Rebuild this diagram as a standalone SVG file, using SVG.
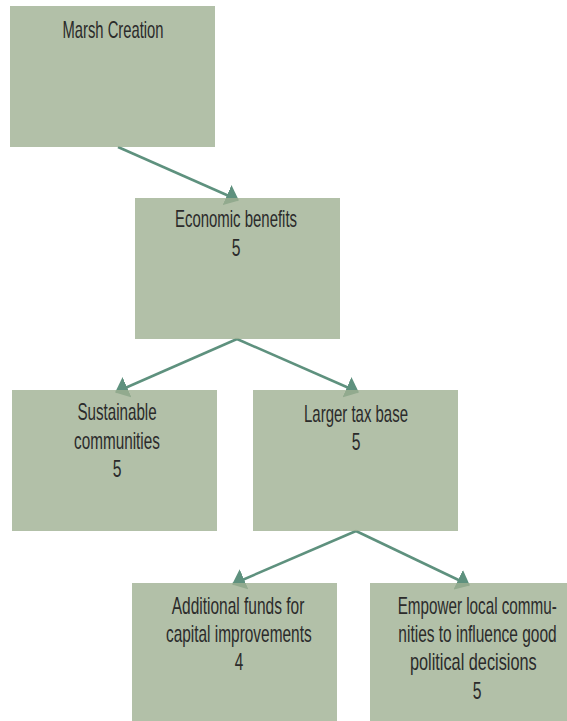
<svg xmlns="http://www.w3.org/2000/svg" width="567" height="721" viewBox="0 0 567 721">
  <style>
    .box { fill: #9fb092; fill-opacity: 0.8; }
    .lbl { font-family: "Liberation Sans", "DejaVu Sans", sans-serif; font-size: 23px; fill: #2b2b2b; text-anchor: middle; }
    .edge { stroke: #5e917e; stroke-width: 2.5; fill: none; marker-end: url(#arrow); }
  </style>
  <defs>
    <marker id="arrow" viewBox="0 0 13 22" refX="12" refY="11" markerWidth="13" markerHeight="22" markerUnits="userSpaceOnUse" orient="auto">
      <path d="M0,0 L13,11 L0,22 z" fill="#5e917e"/>
    </marker>
  </defs>
  <rect width="567" height="721" fill="#ffffff"/>

  <g id="connectors">
    <line class="edge" x1="118" y1="147" x2="238" y2="200"/>
    <line class="edge" x1="237" y1="339" x2="116" y2="392"/>
    <line class="edge" x1="237" y1="339" x2="358" y2="392"/>
    <line class="edge" x1="356" y1="531" x2="233" y2="584"/>
    <line class="edge" x1="356" y1="531" x2="469" y2="585"/>
  </g>

  <g id="marsh-creation">
    <rect class="box" x="10" y="6" width="205" height="141"/>
    <text class="lbl" transform="translate(113,38) scale(0.66,1)" x="0" y="0" textLength="153" lengthAdjust="spacingAndGlyphs">Marsh Creation</text>
  </g>

  <g id="economic-benefits">
    <rect class="box" x="135" y="198" width="205" height="141"/>
    <text class="lbl" transform="translate(236,227) scale(0.66,1)" x="0" y="0" textLength="185" lengthAdjust="spacingAndGlyphs">Economic benefits</text>
    <text class="lbl" transform="translate(236,256) scale(0.66,1)" x="0" y="0" textLength="13.2" lengthAdjust="spacingAndGlyphs">5</text>
  </g>

  <g id="sustainable-communities">
    <rect class="box" x="12" y="390" width="205" height="141"/>
    <text class="lbl" transform="translate(117,420) scale(0.66,1)" x="0" y="0" textLength="120" lengthAdjust="spacingAndGlyphs">Sustainable</text>
    <text class="lbl" transform="translate(117,448.5) scale(0.66,1)" x="0" y="0" textLength="130" lengthAdjust="spacingAndGlyphs">communities</text>
    <text class="lbl" transform="translate(117,477) scale(0.66,1)" x="0" y="0" textLength="13.2" lengthAdjust="spacingAndGlyphs">5</text>
  </g>

  <g id="larger-tax-base">
    <rect class="box" x="253" y="390" width="205" height="141"/>
    <text class="lbl" transform="translate(356,422) scale(0.66,1)" x="0" y="0" textLength="157.6" lengthAdjust="spacingAndGlyphs">Larger tax base</text>
    <text class="lbl" transform="translate(356,450) scale(0.66,1)" x="0" y="0" textLength="13.2" lengthAdjust="spacingAndGlyphs">5</text>
  </g>

  <g id="additional-funds">
    <rect class="box" x="132" y="583" width="205" height="138"/>
    <text class="lbl" transform="translate(238,613.5) scale(0.66,1)" x="0" y="0" textLength="201" lengthAdjust="spacingAndGlyphs">Additional funds for</text>
    <text class="lbl" transform="translate(238.8,642) scale(0.66,1)" x="0" y="0" textLength="220.8" lengthAdjust="spacingAndGlyphs">capital improvements</text>
    <text class="lbl" transform="translate(239,670) scale(0.66,1)" x="0" y="0" textLength="12.9" lengthAdjust="spacingAndGlyphs">4</text>
  </g>

  <g id="empower-local-communities">
    <rect class="box" x="370" y="583" width="197" height="138"/>
    <text class="lbl" transform="translate(477.2,613.5) scale(0.66,1)" x="0" y="0" textLength="241" lengthAdjust="spacingAndGlyphs">Empower local commu-</text>
    <text class="lbl" transform="translate(477.5,642) scale(0.66,1)" x="0" y="0" textLength="239.8" lengthAdjust="spacingAndGlyphs">nities to influence good</text>
    <text class="lbl" transform="translate(473.3,670) scale(0.66,1)" x="0" y="0" textLength="192" lengthAdjust="spacingAndGlyphs">political decisions</text>
    <text class="lbl" transform="translate(477,698.5) scale(0.66,1)" x="0" y="0" textLength="13.2" lengthAdjust="spacingAndGlyphs">5</text>
  </g>
</svg>
